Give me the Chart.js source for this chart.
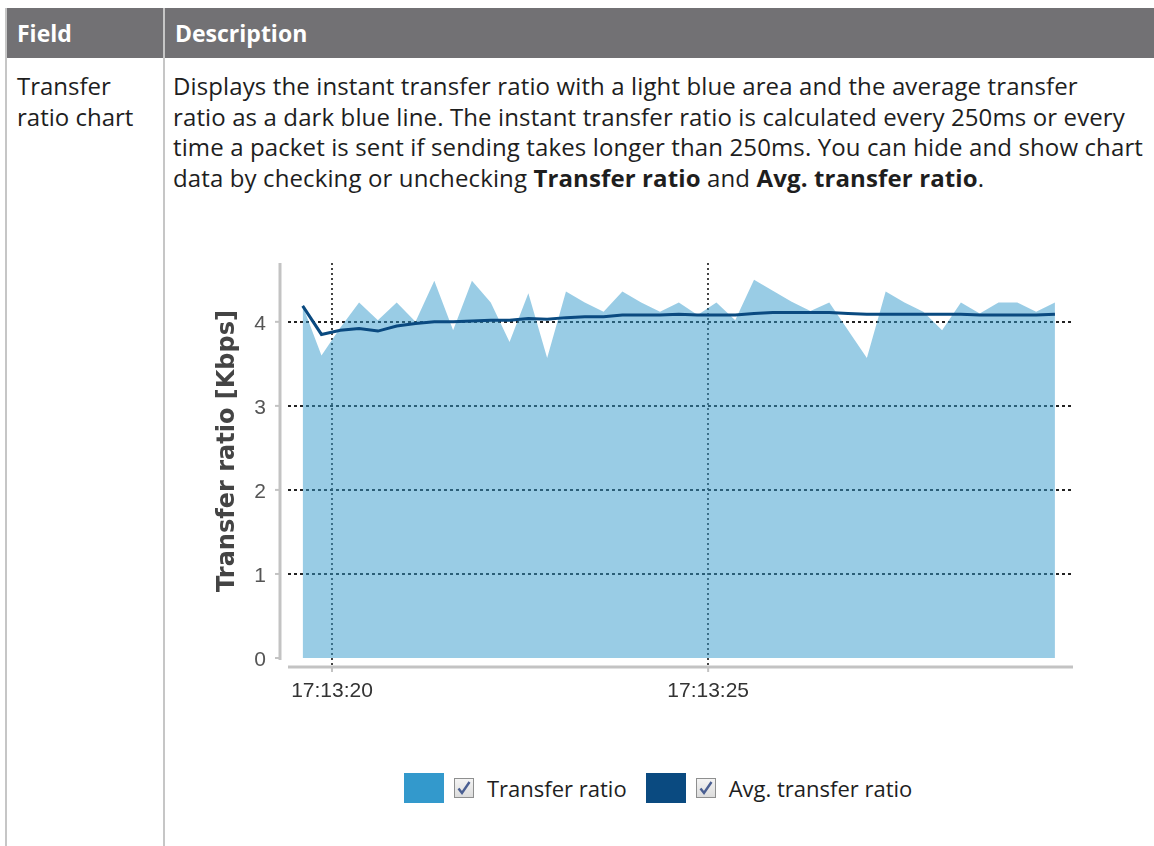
<!DOCTYPE html>
<html>
<head>
<meta charset="utf-8">
<title>Transfer ratio chart</title>
<script src="https://cdn.jsdelivr.net/npm/chart.js@4.4.1/dist/chart.umd.min.js"></script>
<style>
  html, body { margin: 0; padding: 0; background: #fff; }
  body { width: 1154px; height: 846px; position: relative; overflow: hidden;
         font-family: "Open Sans", "Noto Sans", sans-serif; color: #1e1e1e; }
  .hdr { position: absolute; left: 6px; top: 8px; right: 0; height: 50px; background: #727174; }
  .hdr span { position: absolute; top: 0; line-height: 50px; color: #fff; font-weight: 700; font-size: 23px; }
  .vline { position: absolute; top: 8px; bottom: 0; width: 2px; background: #c6c6c6; }
  .field { position: absolute; left: 17px; top: 71px; font-size: 24px; line-height: 30.5px; }
  .desc { position: absolute; left: 173px; top: 71px; font-size: 24px; line-height: 30.5px; white-space: nowrap;
          letter-spacing: 0.12px; }
  .desc b { font-weight: 700; }
  #chartBox { position: absolute; left: 180px; top: 240px; width: 900px; height: 480px; }
  #legend { position: absolute; left: 404px; top: 773px; height: 30px; display: flex; align-items: center;
            font-family: "Open Sans", sans-serif; font-size: 22px; color: #1e1e1e; white-space: nowrap; }
  .item { display: flex; align-items: center; margin-right: 19px; }
  .swatch { width: 40px; height: 30px; margin-right: 10px; }
  .check { width: 20px; height: 20px; box-sizing: border-box; border: 1px solid #8e8f8f; margin-right: 13px;
           background: linear-gradient(#f4f4f4, #dcdcdc); position: relative; }
  .check svg { position: absolute; left: 2px; top: 1px; }
</style>
</head>
<body>
<div class="hdr"><span style="left:11px">Field</span><span style="left:169px">Description</span></div>
<div class="vline" style="left:5px"></div>
<div class="vline" style="left:163px"></div>

<div class="field">Transfer<br>ratio chart</div>
<div class="desc">Displays the instant transfer ratio with a light blue area and the average transfer<br>ratio as a dark blue line. The instant transfer ratio is calculated every 250ms or every<br>time a packet is sent if sending takes longer than 250ms. You can hide and show chart<br>data by checking or unchecking <b>Transfer ratio</b> and <b>Avg. transfer ratio</b>.</div>

<div id="chartBox"><canvas id="chart"></canvas></div>
<div id="legend"></div>

<script>
// Sample times, in seconds relative to 17:13:20 (one sample every 250 ms)
const sampleSeconds = [
  -0.39, -0.14, 0.11, 0.36, 0.61, 0.86, 1.11, 1.36, 1.61, 1.86,
   2.11,  2.36, 2.61, 2.86, 3.11, 3.36, 3.61, 3.86, 4.11, 4.36,
   4.61,  4.86, 5.11, 5.36, 5.61, 5.86, 6.11, 6.36, 6.61, 6.86,
   7.11,  7.36, 7.61, 7.86, 8.11, 8.36, 8.61, 8.86, 9.11, 9.36, 9.61
];

// Instant transfer ratio [Kbps]
const transferRatio = [
  4.19, 3.60, 3.93, 4.23, 4.02, 4.23, 4.00, 4.49, 3.90, 4.49,
  4.23, 3.76, 4.34, 3.57, 4.36, 4.23, 4.12, 4.36, 4.23, 4.12,
  4.23, 4.08, 4.23, 4.02, 4.50, 4.37, 4.24, 4.13, 4.23, 3.90,
  3.57, 4.36, 4.23, 4.12, 3.90, 4.23, 4.10, 4.23, 4.23, 4.12, 4.23
];

// Average transfer ratio [Kbps]
const avgTransferRatio = [
  4.19, 3.85, 3.90, 3.92, 3.89, 3.95, 3.98, 4.00, 4.00, 4.01,
  4.02, 4.02, 4.04, 4.03, 4.05, 4.06, 4.06, 4.08, 4.08, 4.08,
  4.09, 4.08, 4.08, 4.08, 4.10, 4.11, 4.11, 4.11, 4.11, 4.10,
  4.09, 4.09, 4.09, 4.09, 4.09, 4.09, 4.08, 4.08, 4.08, 4.08, 4.09
];

// Axis ticks
const timeTickSeconds = [0, 5];
const timeTickLabels = ['17:13:20', '17:13:25'];
const ratioTicks = [0, 1, 2, 3, 4];

const seriesLabels = ['Transfer ratio', 'Avg. transfer ratio'];
const seriesColors = ['#3399cc', '#0a4a80'];

const toPoints = vals => vals.map((v, i) => ({ x: sampleSeconds[i], y: v }));

// Axis lines sit slightly apart from the plot area, plus the rotated y title
const axisDecor = {
  id: 'axisDecor',
  afterDraw(chart) {
    const { ctx, chartArea: a, scales: { x, y } } = chart;
    const y0 = y.getPixelForValue(0);
    const axisX = a.left - 8;
    ctx.save();
    ctx.strokeStyle = '#c3c3c3';
    ctx.lineWidth = 3;
    ctx.beginPath(); ctx.moveTo(axisX, a.top); ctx.lineTo(axisX, y0 + 2); ctx.stroke();
    ctx.lineWidth = 2;
    y.ticks.forEach(t => {
      const py = y.getPixelForValue(t.value);
      ctx.beginPath(); ctx.moveTo(axisX - 5, py); ctx.lineTo(axisX, py); ctx.stroke();
    });
    ctx.lineWidth = 3;
    ctx.beginPath(); ctx.moveTo(a.left, a.bottom); ctx.lineTo(a.right, a.bottom); ctx.stroke();
    ctx.lineWidth = 2;
    x.ticks.forEach(t => {
      const px = x.getPixelForValue(t.value);
      ctx.beginPath(); ctx.moveTo(px, a.bottom); ctx.lineTo(px, a.bottom + 5); ctx.stroke();
    });
    // y axis title
    ctx.translate(a.left - 60, (a.top + a.bottom) / 2 - 14);
    ctx.rotate(-Math.PI / 2);
    ctx.fillStyle = '#444';
    ctx.font = 'bold 24px "DejaVu Sans"';
    ctx.textAlign = 'center';
    ctx.textBaseline = 'middle';
    ctx.fillText('Transfer ratio [Kbps]', 0, 0);
    ctx.restore();
  }
};

new Chart(document.getElementById('chart'), {
  type: 'line',
  data: {
    datasets: [
      {
        label: seriesLabels[0],
        data: toPoints(transferRatio),
        fill: 'origin',
        backgroundColor: 'rgba(51, 153, 204, 0.5)',
        borderWidth: 0,
        borderColor: 'rgba(0,0,0,0)',
        pointRadius: 0,
        tension: 0,
        order: 2
      },
      {
        label: seriesLabels[1],
        data: toPoints(avgTransferRatio),
        fill: false,
        borderColor: seriesColors[1],
        borderWidth: 3,
        pointRadius: 0,
        tension: 0,
        order: 1
      }
    ]
  },
  options: {
    responsive: true,
    maintainAspectRatio: false,
    animation: false,
    layout: { padding: { top: 23, right: 7, left: 0, bottom: 0 } },
    plugins: { legend: { display: false }, tooltip: { enabled: false } },
    scales: {
      x: {
        type: 'linear',
        min: -0.585,
        max: 9.85,
        afterBuildTicks: s => { s.ticks = timeTickSeconds.map(v => ({ value: v })); },
        afterFit: s => { s.height = 53; s.paddingLeft = 0; s.paddingRight = 0; },
        ticks: {
          autoSkip: false, maxRotation: 0, padding: 12,
          color: '#333',
          font: { family: 'Liberation Sans', size: 21 },
          callback: v => timeTickLabels[timeTickSeconds.indexOf(v)]
        },
        grid: { color: '#444', lineWidth: 2, drawTicks: false },
        border: { display: false, dash: [2, 3] }
      },
      y: {
        min: -0.107,
        max: 4.70,
        afterBuildTicks: s => { s.ticks = ratioTicks.map(v => ({ value: v })); },
        afterFit: s => { s.width = 108; s.paddingTop = 0; s.paddingBottom = 0; },
        ticks: {
          padding: 22, labelOffset: 2,
          color: '#555',
          font: { family: 'Liberation Sans', size: 21 }
        },
        grid: {
          color: c => (c.tick && c.tick.value === 0) ? 'rgba(0,0,0,0)' : '#222',
          lineWidth: 2,
          drawTicks: false
        },
        border: { display: false, dash: [3, 3] }
      }
    }
  },
  plugins: [axisDecor]
});

// Legend row: colour swatch, ticked box, series name
const legend = document.getElementById('legend');
seriesLabels.forEach((name, i) => {
  const item = document.createElement('div');
  item.className = 'item';
  item.innerHTML =
    '<div class="swatch" style="background:' + seriesColors[i] + '"></div>' +
    '<div class="check"><svg width="14" height="16" viewBox="0 0 14 16">' +
    '<path d="M1.5 8.5 L5 13 L12.5 2" fill="none" stroke="#4a5f92" stroke-width="2.4"/></svg></div>' +
    '<span>' + name + '</span>';
  legend.appendChild(item);
});
</script>
</body>
</html>
